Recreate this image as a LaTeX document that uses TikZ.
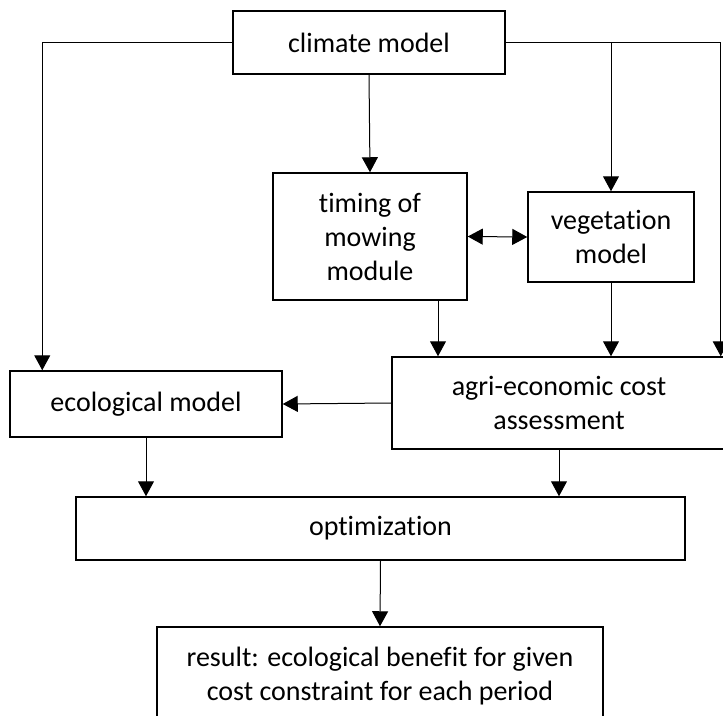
\documentclass[tikz,border=0pt]{standalone}
\usepackage{fontspec}
\setmainfont{Carlito}[Ligatures=NoCommon]
\usetikzlibrary{arrows.meta}
\begin{document}
\begin{tikzpicture}[x=1pt,y=1pt,
  box/.style={draw,line width=1.5pt,align=center,inner sep=0pt,
    font=\fontsize{28}{34}\selectfont},
  arr/.style={line width=1pt,-{Triangle[length=15pt,width=16pt]}}]
  \clip (0,0) rectangle (723,-715);
  % boxes
  \node[box,minimum width=272pt,minimum height=63pt] (climate) at (369,-42.5) {climate model};
  \node[box,minimum width=194pt,minimum height=127pt] (timing) at (370,-236.5) {timing of\\mowing\\module};
  \node[box,minimum width=166pt,minimum height=90pt] (veg) at (611,-237) {vegetation\\model};
  \node[box,minimum width=272pt,minimum height=66pt] (eco) at (146,-404) {ecological model};
  \node[box,minimum width=334pt,minimum height=92pt] (agri) at (559,-403) {agri-economic cost\\assessment};
  \node[box,minimum width=609pt,minimum height=63pt] (opt) at (380.5,-528.5) {optimization};
  \node[box,minimum width=446pt,minimum height=98pt] (result) at (380,-676) {result: ecological benefit for given\\cost constraint for each period};
  % connectors
  \draw[arr] (climate.west) -| ([xshift=33pt]eco.north west);
  \draw[arr] (climate.south) -- (timing.north);
  \draw[arr] (climate.east) -| (veg.north);
  \draw[arr] (climate.east) -| ([xshift=-6pt]agri.north east);
  \draw[arr,{Triangle[length=15pt,width=16pt]}-{Triangle[length=15pt,width=16pt]}] (timing.east) -- (veg.west);
  \draw[arr] ([xshift=68pt]timing.south) -- ([xshift=68pt]timing.south |- agri.north);
  \draw[arr] (veg.south) -- (veg.south |- agri.north);
  \draw[arr] (agri.west) -- (eco.east);
  \draw[arr] (eco.south) -- (eco.south |- opt.north);
  \draw[arr] (agri.south) -- (agri.south |- opt.north);
  \draw[arr] (opt.south) -- (result.north);
\end{tikzpicture}
\end{document}
